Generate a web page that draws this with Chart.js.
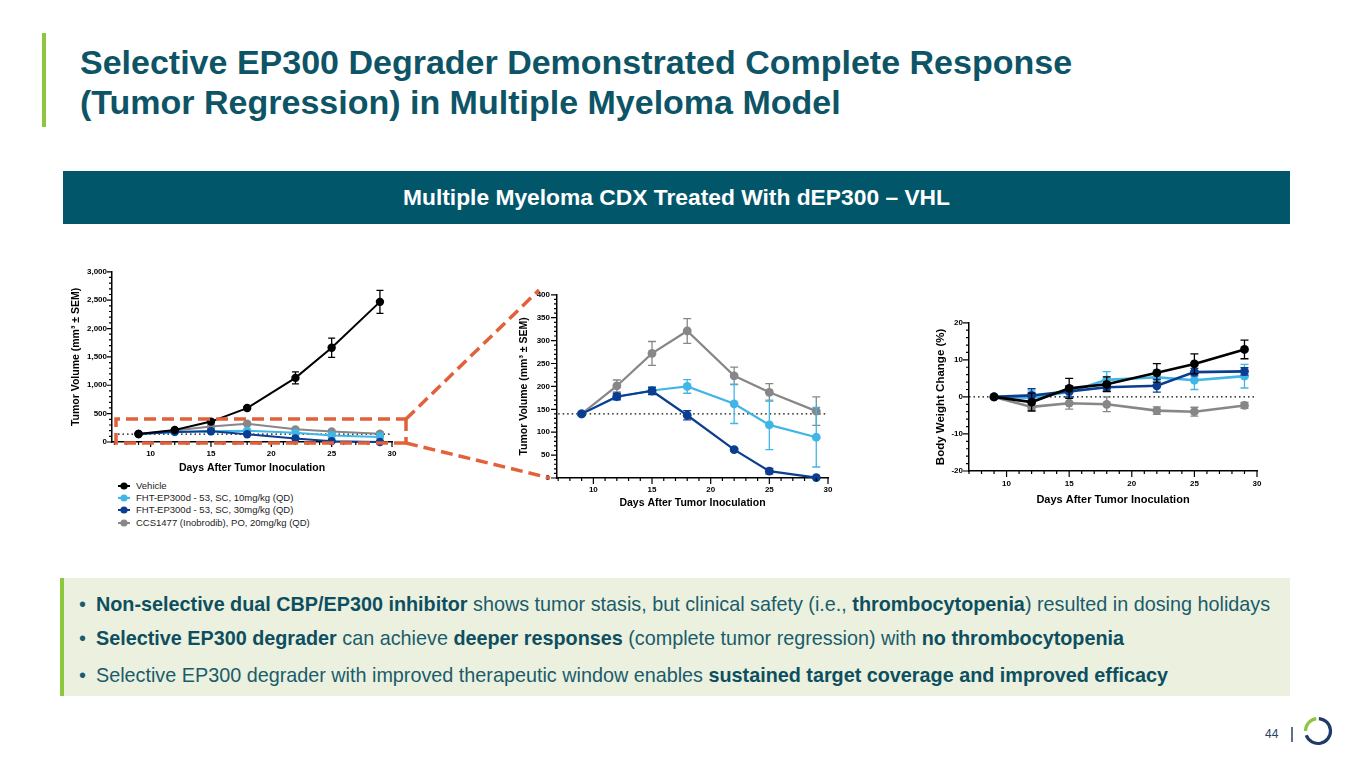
<!DOCTYPE html>
<html>
<head>
<meta charset="utf-8">
<script src="https://cdn.jsdelivr.net/npm/chart.js@4.4.1/dist/chart.umd.min.js"></script>
<style>
  html,body{margin:0;padding:0;}
  body{width:1365px;height:768px;background:#fff;position:relative;overflow:hidden;font-family:"Liberation Sans",Arial,Helvetica,sans-serif;}
  .abs{position:absolute;}
  #greenbar{left:42px;top:33px;width:4px;height:94px;background:#8dc63f;}
  #title{left:80px;top:42px;font-size:34px;line-height:40px;font-weight:bold;color:#0d5466;white-space:nowrap;}
  #header{left:63px;top:171px;width:1227px;height:53px;background:#02566a;color:#fff;font-weight:bold;font-size:22.8px;line-height:53px;text-align:center;white-space:nowrap;}
  #box{left:60px;top:578px;width:1226px;height:118px;background:#ebf1de;border-left:4px solid #8dc63f;}
  .bl{position:absolute;left:96px;font-size:19.8px;line-height:22px;color:#1a5c6c;white-space:nowrap;}
  .bl b{color:#0d4f60;}
  .bl .dot{position:absolute;left:-17px;top:0;}
  canvas{position:absolute;}
  #legend{left:117px;top:480px;font-size:9.5px;color:#222;}
  .li{position:absolute;left:0;height:12px;line-height:12px;white-space:nowrap;}
  .li svg{position:absolute;left:0;top:0;}
  .li span{position:absolute;left:19px;top:0;}
  #pg{left:1265px;top:727px;font-size:12px;color:#2b3f63;line-height:14px;}
  #overlay{left:0;top:0;z-index:5;pointer-events:none;}
</style>
</head>
<body>
<div id="greenbar" class="abs"></div>
<div id="title" class="abs">Selective EP300 Degrader Demonstrated Complete Response<br>(Tumor Regression) in Multiple Myeloma Model</div>
<div id="header" class="abs">Multiple Myeloma CDX Treated With dEP300 – VHL</div>

<canvas id="c1" width="345" height="216" style="left:60px;top:262px;"></canvas>
<canvas id="c2" width="330" height="230" style="left:510px;top:283px;"></canvas>
<canvas id="c3" width="345" height="199" style="left:925px;top:312px;"></canvas>
<div id="legend" class="abs"></div>

<div id="box" class="abs"></div>
<div class="bl" style="top:593px;"><span class="dot">•</span><b>Non-selective dual CBP/EP300 inhibitor</b> shows tumor stasis, but clinical safety (i.e., <b>thrombocytopenia</b>) resulted in dosing holidays</div>
<div class="bl" style="top:627px;"><span class="dot">•</span><b>Selective EP300 degrader</b> can achieve <b>deeper responses</b> (complete tumor regression) with <b>no thrombocytopenia</b></div>
<div class="bl" style="top:664px;"><span class="dot">•</span>Selective EP300 degrader with improved therapeutic window enables <b>sustained target coverage and improved efficacy</b></div>

<div id="pg" class="abs">44</div>
<svg id="overlay" class="abs" width="1365" height="768"></svg>

<script>
// ---------------- DATA ----------------
const days = [9, 12, 15, 18, 22, 25, 29];
const seriesNames = [
  "Vehicle",
  "FHT-EP300d - 53, SC, 10mg/kg (QD)",
  "FHT-EP300d - 53, SC, 30mg/kg (QD)",
  "CCS1477 (Inobrodib), PO, 20mg/kg (QD)"
];
const seriesColors = ["#000000", "#41b6e6", "#0b3d91", "#878787"];
const drawOrder = [0, 2, 1, 3];

// Tumor volume (mm3), mean and SEM
const vehicleTV    = [140, 212, 360, 598, 1130, 1660, 2470];
const vehicleTVErr = [8, 15, 22, 25, 105, 170, 203];
const lowDoseTV    = [140, 177, 191, 200, 162, 116, 89];
const lowDoseTVErr = [3, 7, 8, 15, 43, 54, 65];
const highDoseTV   = [140, 178, 190, 137, 62, 15, 1];
const highDoseTVErr= [3, 7, 8, 10, 3, 6, 1];
const ccsTV        = [140, 201, 272, 321, 223, 187, 146];
const ccsTVErr     = [3, 13, 26, 27, 19, 19, 31];

// Body weight change (%), mean and SEM
const vehicleBW    = [0, -1.4, 2.3, 3.4, 6.5, 8.9, 12.8];
const vehicleBWErr = [0, 2.4, 2.7, 2.0, 2.5, 2.7, 2.5];
const lowDoseBW    = [0, -0.2, 1.3, 4.6, 5.3, 4.5, 5.6];
const lowDoseBWErr = [0, 1.8, 1.5, 2.2, 2.0, 2.5, 3.2];
const highDoseBW   = [0, 0.4, 1.5, 2.6, 3.0, 6.7, 6.9];
const highDoseBWErr= [0, 1.8, 1.5, 1.0, 1.7, 1.0, 1.0];
const ccsBW        = [0, -2.7, -1.7, -2.0, -3.7, -4.0, -2.3];
const ccsBWErr     = [0, 0.8, 1.6, 2.0, 1.0, 1.2, 0.8];

// Tick labels
const dayTicks = [10, 15, 20, 25, 30];
const tvTicksFull = [0, 500, 1000, 1500, 2000, 2500, 3000];
const tvTicksZoom = [0, 50, 100, 150, 200, 250, 300, 350, 400];
const bwTicks = [-20, -10, 0, 10, 20];
const baselineTV = 140;
const baselineBW = 0;

// ---------------- PLUGINS ----------------
const errorBars = {
  id: 'errorBars',
  beforeDatasetDraw(chart, args, opts) {
    const ds = chart.data.datasets[args.index];
    if (!ds.errors) return;
    const ys = chart.scales.y, ctx = chart.ctx;
    ctx.save();
    ctx.strokeStyle = ds.borderColor;
    ctx.lineWidth = opts.width || 1.3;
    args.meta.data.forEach((pt, i) => {
      const e = ds.errors[i];
      if (!e) return;
      const v = ds.data[i].y;
      const y1 = ys.getPixelForValue(v + e), y2 = ys.getPixelForValue(v - e);
      const c = opts.cap || 4;
      ctx.beginPath();
      ctx.moveTo(pt.x, y1); ctx.lineTo(pt.x, y2);
      ctx.moveTo(pt.x - c, y1); ctx.lineTo(pt.x + c, y1);
      ctx.moveTo(pt.x - c, y2); ctx.lineTo(pt.x + c, y2);
      ctx.stroke();
    });
    ctx.restore();
  }
};

const refLine = {
  id: 'refLine',
  beforeDatasetsDraw(chart, args, o) {
    if (o.value == null) return;
    const xs = chart.scales.x, ys = chart.scales.y, ctx = chart.ctx;
    const y = ys.getPixelForValue(o.value);
    ctx.save();
    ctx.strokeStyle = '#000';
    ctx.lineWidth = o.width || 1.3;
    ctx.setLineDash(o.dash || [1.5, 3]);
    ctx.beginPath();
    ctx.moveTo(xs.getPixelForValue(o.from), y);
    ctx.lineTo(xs.getPixelForValue(o.to), y);
    ctx.stroke();
    ctx.restore();
  }
};

const axisTicks = {
  id: 'axisTicks',
  afterDraw(chart, args, o) {
    const xs = chart.scales.x, ys = chart.scales.y, ctx = chart.ctx;
    const {left, bottom} = chart.chartArea;
    ctx.save();
    ctx.strokeStyle = '#000';
    ctx.lineWidth = o.width || 1.2;
    ctx.beginPath();
    const i0 = Math.ceil(xs.min / o.xMinor - 1e-9), i1 = Math.floor(xs.max / o.xMinor + 1e-9);
    for (let i = i0; i <= i1; i++) {
      const v = i * o.xMinor;
      const p = xs.getPixelForValue(v);
      const major = Math.abs(v / o.xMajor - Math.round(v / o.xMajor)) < 1e-6;
      ctx.moveTo(p, bottom); ctx.lineTo(p, bottom + (major ? o.majorLen : o.minorLen));
    }
    const j0 = Math.ceil(ys.min / o.yMinor - 1e-9), j1 = Math.floor(ys.max / o.yMinor + 1e-9);
    for (let j = j0; j <= j1; j++) {
      const v = j * o.yMinor;
      const p = ys.getPixelForValue(v);
      const major = Math.abs(v / o.yMajor - Math.round(v / o.yMajor)) < 1e-6;
      ctx.moveTo(left, p); ctx.lineTo(left - (major ? o.majorLen : o.minorLen), p);
    }
    ctx.stroke();
    ctx.restore();
  }
};

// ---------------- BUILDERS ----------------
// series: list of {k: series index, values, errors}
function makeDatasets(series, lw, pr) {
  return series.map(s => ({
    label: seriesNames[s.k],
    data: days.map((d, i) => ({x: d, y: s.values[i]})),
    errors: s.errors,
    borderColor: seriesColors[s.k],
    backgroundColor: seriesColors[s.k],
    pointBackgroundColor: seriesColors[s.k],
    pointBorderColor: seriesColors[s.k],
    pointBorderWidth: 0,
    pointRadius: pr,
    borderWidth: lw,
    order: drawOrder[s.k],
    clip: false,
    tension: 0
  }));
}

function makeChart(id, cfg) {
  const tickFont = {family: 'Liberation Sans', weight: 'bold', size: cfg.tickSize};
  return new Chart(document.getElementById(id), {
    type: 'line',
    data: {datasets: makeDatasets(cfg.series, cfg.lw, cfg.pr)},
    options: {
      responsive: false,
      animation: false,
      events: [],
      layout: {padding: cfg.padding},
      plugins: {
        legend: {display: false},
        tooltip: {enabled: false},
        errorBars: {width: cfg.ebw, cap: cfg.cap},
        refLine: cfg.ref,
        axisTicks: cfg.ticks
      },
      scales: {
        x: {
          type: 'linear', position: 'bottom',
          min: cfg.xmin, max: 30,
          grid: {display: false, drawTicks: false},
          border: {display: true, color: '#000', width: 1.5},
          afterBuildTicks: s => { s.ticks = dayTicks.map(v => ({value: v})); },
          afterFit: s => { s.height = cfg.xh; },
          ticks: {font: tickFont, color: '#000', padding: cfg.xpad, maxRotation: 0, autoSkip: false},
          title: {display: true, text: 'Days After Tumor Inoculation', color: '#000',
                  font: {family: 'Liberation Sans', weight: 'bold', size: cfg.xTitleSize}, padding: {top: 2, bottom: 4}}
        },
        y: {
          type: 'linear', position: 'left',
          min: cfg.yTicks[0], max: cfg.yTicks[cfg.yTicks.length - 1],
          grid: {display: false, drawTicks: false},
          border: {display: true, color: '#000', width: 1.5},
          afterBuildTicks: s => { s.ticks = cfg.yTicks.map(v => ({value: v})); },
          afterFit: s => { s.width = cfg.yw; },
          ticks: {font: tickFont, color: '#000', padding: cfg.ypad, autoSkip: false,
                  callback: v => v.toLocaleString('en-US')},
          title: {display: true, text: cfg.yTitle, color: '#000',
                  font: {family: 'Liberation Sans', weight: 'bold', size: cfg.yTitleSize}, padding: {top: 4, bottom: 2}}
        }
      }
    },
    plugins: [refLine, errorBars, axisTicks]
  });
}

// Chart 1: full tumor volume
makeChart('c1', {
  series: [
    {k: 0, values: vehicleTV, errors: vehicleTVErr},
    {k: 1, values: lowDoseTV, errors: lowDoseTVErr},
    {k: 2, values: highDoseTV, errors: highDoseTVErr},
    {k: 3, values: ccsTV, errors: ccsTVErr}
  ],
  lw: 2, pr: 4.2, ebw: 1.3, cap: 3.5,
  padding: {left: 6, top: 8, right: 13, bottom: 0},
  xmin: 6.8, xh: 36, yw: 46, xpad: 6.5, ypad: 5,
  tickSize: 8, xTitleSize: 10.5, yTitleSize: 10.5,
  yTicks: tvTicksFull, yTitle: 'Tumor Volume (mm³ ± SEM)',
  ref: {value: baselineTV, from: 7.3, to: 29.8, width: 1.3, dash: [1.5, 3]},
  ticks: {xMinor: 1, xMajor: 5, yMinor: 100, yMajor: 500, majorLen: 5, minorLen: 3, width: 1.2}
});

// Chart 2: zoomed tumor volume (treatment groups only)
makeChart('c2', {
  series: [
    {k: 1, values: lowDoseTV, errors: lowDoseTVErr},
    {k: 2, values: highDoseTV, errors: highDoseTVErr},
    {k: 3, values: ccsTV, errors: ccsTVErr}
  ],
  lw: 2.2, pr: 4.4, ebw: 1.3, cap: 4,
  padding: {left: 4, top: 8, right: 12, bottom: 0},
  xmin: 6.9, xh: 35, yw: 43, xpad: 7, ypad: 7,
  tickSize: 8, xTitleSize: 10.5, yTitleSize: 10.5,
  yTicks: tvTicksZoom, yTitle: 'Tumor Volume (mm³ ± SEM)',
  ref: {value: baselineTV, from: 7.0, to: 30, width: 1.3, dash: [1.5, 3]},
  ticks: {xMinor: 1, xMajor: 5, yMinor: 10, yMajor: 50, majorLen: 6, minorLen: 3, width: 1.2}
});

// Chart 3: body weight change
makeChart('c3', {
  series: [
    {k: 0, values: vehicleBW, errors: vehicleBWErr},
    {k: 1, values: lowDoseBW, errors: lowDoseBWErr},
    {k: 2, values: highDoseBW, errors: highDoseBWErr},
    {k: 3, values: ccsBW, errors: ccsBWErr}
  ],
  lw: 2.6, pr: 4.4, ebw: 1.3, cap: 4,
  padding: {left: 5, top: 10, right: 13, bottom: 0},
  xmin: 7.0, xh: 40, yw: 39, xpad: 7.5, ypad: 6,
  tickSize: 8, xTitleSize: 11, yTitleSize: 11.5,
  yTicks: bwTicks, yTitle: 'Body Weight Change (%)',
  ref: {value: baselineBW, from: 7.0, to: 30, width: 1.1, dash: [1.5, 3]},
  ticks: {xMinor: 1, xMajor: 5, yMinor: 2, yMajor: 10, majorLen: 6, minorLen: 3, width: 1.2}
});

// ---------------- LEGEND ----------------
const legend = document.getElementById('legend');
seriesNames.forEach((name, k) => {
  const d = document.createElement('div');
  d.className = 'li';
  d.style.top = (k * 12.2) + 'px';
  d.innerHTML = '<svg width="14" height="12"><line x1="1" y1="6" x2="13" y2="6" stroke="' + seriesColors[k] +
    '" stroke-width="2"/><circle cx="7" cy="6" r="3.6" fill="' + seriesColors[k] + '"/></svg><span>' + name + '</span>';
  legend.appendChild(d);
});

// ---------------- DECORATION (zoom call-out, page footer) ----------------
const svg = document.getElementById('overlay');
const NS = 'http://www.w3.org/2000/svg';
function el(tag, attrs) { const e = document.createElementNS(NS, tag); for (const k in attrs) e.setAttribute(k, attrs[k]); svg.appendChild(e); return e; }
const orange = '#e2603a';
const dashAttrs = {stroke: orange, 'stroke-width': 3.5, fill: 'none', 'stroke-dasharray': '12 6'};
el('polyline', Object.assign({points: '406,443 116,443 116,419 406,419'}, dashAttrs));
el('polyline', Object.assign({points: '406,419 406,443'}, dashAttrs));
el('line', Object.assign({x1: 406, y1: 419, x2: 539, y2: 290}, dashAttrs));
el('line', Object.assign({x1: 406, y1: 443, x2: 550, y2: 478}, dashAttrs));

// page separator and logo
el('line', {x1: 1292, y1: 727, x2: 1292, y2: 742, stroke: '#2b3f63', 'stroke-width': 1.5});
function arcPath(cx, cy, r, a0, a1) {
  const t0 = a0 * Math.PI / 180, t1 = a1 * Math.PI / 180;
  const large = (a1 - a0) > 180 ? 1 : 0;
  return 'M' + (cx + r * Math.cos(t0)) + ' ' + (cy + r * Math.sin(t0)) +
         ' A' + r + ' ' + r + ' 0 ' + large + ' 1 ' + (cx + r * Math.cos(t1)) + ' ' + (cy + r * Math.sin(t1));
}
el('path', {d: arcPath(1318, 731, 12.5, 180, 262), stroke: '#8dc63f', 'stroke-width': 3.2, fill: 'none'});
el('path', {d: arcPath(1318, 731, 12.5, 274, 520), stroke: '#1f3a68', 'stroke-width': 3.2, fill: 'none'});
</script>
</body>
</html>
